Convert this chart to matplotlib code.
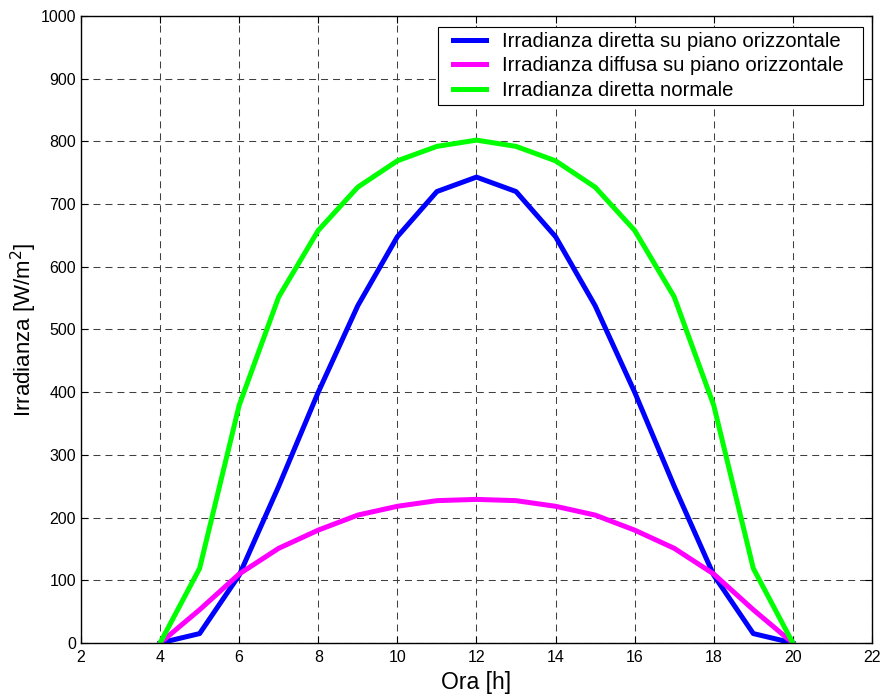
import matplotlib
matplotlib.use("Agg")
import matplotlib.pyplot as plt
from matplotlib.legend_handler import HandlerLine2D

plt.rcParams['font.family'] = ['Liberation Sans', 'DejaVu Sans']

# ore del giorno
ore = [4, 5, 6, 7, 8, 9, 10, 11, 12, 13, 14, 15, 16, 17, 18, 19, 20]

# irradianze [W/m^2]
diretta_orizz = [0, 15, 108, 250, 400, 538, 648, 720, 743, 720, 648, 538, 400, 250, 108, 15, 0]
diffusa_orizz = [0, 53, 110, 151, 180, 204, 218, 227, 229, 227, 218, 204, 180, 151, 110, 53, 0]
diretta_normale = [0, 119, 379, 552, 658, 727, 769, 792, 802, 792, 769, 727, 658, 552, 379, 119, 0]

etichette = ["Irradianza diretta su piano orizzontale",
             "Irradianza diffusa su piano orizzontale",
             "Irradianza diretta normale"]

fig = plt.figure(figsize=(8.82, 6.97), dpi=100)
ax = fig.add_axes([0.0918, 0.0775, 0.8968, 0.8996])

ax.plot(ore, diretta_orizz, color='#0000ff', lw=3.6, label=etichette[0])
ax.plot(ore, diffusa_orizz, color='#ff00ff', lw=3.6, label=etichette[1])
ax.plot(ore, diretta_normale, color='#00ff00', lw=3.6, label=etichette[2])

ax.set_xlim(2, 22)
ax.set_ylim(0, 1000)
ax.set_xticks(range(2, 23, 2))
ax.set_yticks(range(0, 1001, 100))
ax.tick_params(direction='in', labelsize=11.5, length=5, top=True, right=True)
ax.tick_params(axis='x', pad=5)
ax.grid(True, color='#404040', linestyle=(0, (6.7, 4.8)), linewidth=0.75)
for s in ax.spines.values():
    s.set_linewidth(1.0)

ax.set_xlabel("Ora [h]", fontsize=16.5, labelpad=4.5)
ax.set_ylabel("Irradianza [W/m$^2$]", fontsize=16)
ax.yaxis.set_label_coords(-0.053, 0.5)

# legenda a larghezza fissa, simboli spostati un po' a destra
leg = ax.legend(loc='upper left', bbox_to_anchor=(0.4513, 0.5, 0.5373, 0.4825),
                mode='expand', fontsize=14.6, fancybox=False, framealpha=1,
                edgecolor='black', borderpad=0.25, labelspacing=0.27,
                handlelength=2.14, handletextpad=0.78, borderaxespad=0.0,
                handler_map={plt.Line2D: HandlerLine2D(xpad=0.47)})
leg.get_frame().set_linewidth(0.8)

fig.savefig("out.png", dpi=100)
